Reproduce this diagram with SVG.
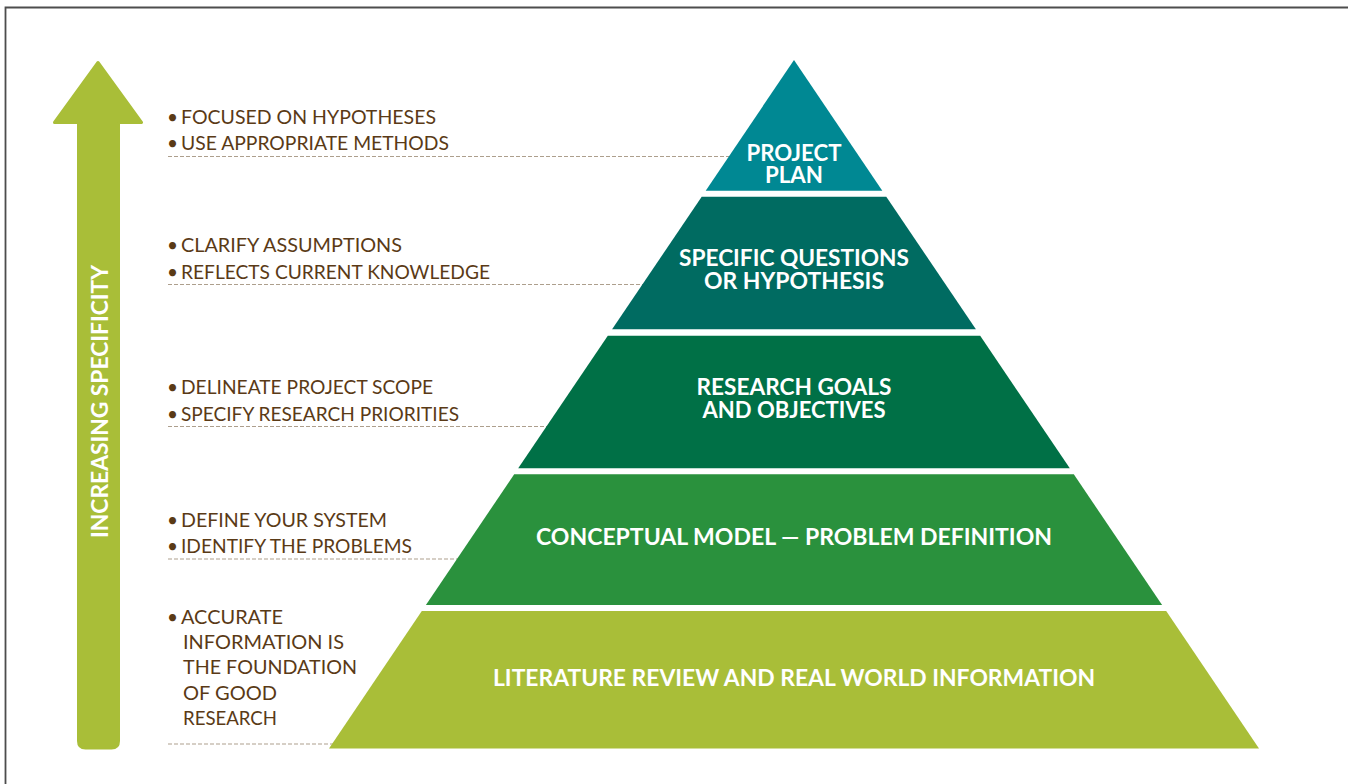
<svg xmlns="http://www.w3.org/2000/svg" width="1348" height="784" viewBox="0 0 1348 784">
<style>
.lbl{font-family:Lato,"Open Sans",sans-serif;font-weight:700;fill:#ffffff;font-size:22px;text-anchor:middle}
.note{font-family:Lato,"Open Sans",sans-serif;font-weight:400;fill:#5a3a16;font-size:19px}
.dash{stroke:#ad9f8d;stroke-width:1.2;stroke-dasharray:4 2;fill:none}
</style>
<rect width="1348" height="784" fill="#ffffff"/>
<path d="M5.5,790 V7.5 H1352" fill="none" stroke="#4d4d4d" stroke-width="1.8"/>
<g id="connectors">
<line class="dash" x1="168" y1="156.5" x2="730" y2="156.5"/>
<line class="dash" x1="168" y1="284.5" x2="643" y2="284.5"/>
<line class="dash" x1="168" y1="426.5" x2="547" y2="426.5"/>
<line class="dash" x1="168" y1="559" x2="458" y2="559"/>
<line class="dash" x1="168" y1="744" x2="333" y2="744"/>
</g>
<g id="arrow">
<path d="M98,62.5 L141.5,122.5 L118.5,122.5 L118.5,741 Q118.5,748 111.5,748 L85.5,748 Q78.5,748 78.5,741 L78.5,122.5 L54.5,122.5 Z" fill="#a9be38" stroke="#a9be38" stroke-width="3" stroke-linejoin="round"/>
<text class="lbl" font-size="25" transform="translate(108,401.5) rotate(-90)" x="0" y="0" textLength="273" lengthAdjust="spacingAndGlyphs">INCREASING SPECIFICITY</text>
</g>
<g id="project-plan">
<polygon points="794,60 882.3,190.7 705.7,190.7" fill="#008893"/>
<text class="lbl"><tspan x="794" y="161" textLength="95" lengthAdjust="spacingAndGlyphs">PROJECT</tspan><tspan x="794" y="183" textLength="58" lengthAdjust="spacingAndGlyphs">PLAN</tspan></text>
</g>
<g id="specific-questions">
<polygon points="701.7,196.7 886.3,196.7 975.9,329.3 612.1,329.3" fill="#006b61"/>
<text class="lbl"><tspan x="794" y="265.5" textLength="230" lengthAdjust="spacingAndGlyphs">SPECIFIC QUESTIONS</tspan><tspan x="794" y="288.5" textLength="180" lengthAdjust="spacingAndGlyphs">OR HYPOTHESIS</tspan></text>
</g>
<g id="research-goals">
<polygon points="607.8,335.7 980.2,335.7 1069.8,468.3 518.2,468.3" fill="#007046"/>
<text class="lbl"><tspan x="794" y="395" textLength="195" lengthAdjust="spacingAndGlyphs">RESEARCH GOALS</tspan><tspan x="794" y="418" textLength="183" lengthAdjust="spacingAndGlyphs">AND OBJECTIVES</tspan></text>
</g>
<g id="conceptual-model">
<polygon points="514.2,474.3 1073.8,474.3 1162.1,605 425.9,605" fill="#2a913d"/>
<text class="lbl" x="794" y="545" textLength="516" lengthAdjust="spacingAndGlyphs">CONCEPTUAL MODEL — PROBLEM DEFINITION</text>
</g>
<g id="literature-review">
<polygon points="421.8,611 1166.2,611 1259,748.5 329,748.5" fill="#a9be38"/>
<text class="lbl" x="794" y="686" textLength="602" lengthAdjust="spacingAndGlyphs">LITERATURE REVIEW AND REAL WORLD INFORMATION</text>
</g>
<g id="notes-plan">
<text class="note" x="167" y="124">•</text><text class="note" x="181" y="124" textLength="255" lengthAdjust="spacingAndGlyphs">FOCUSED ON HYPOTHESES</text>
<text class="note" x="167" y="150">•</text><text class="note" x="181" y="150" textLength="268" lengthAdjust="spacingAndGlyphs">USE APPROPRIATE METHODS</text>
</g>
<g id="notes-questions">
<text class="note" x="167" y="252">•</text><text class="note" x="181" y="252" textLength="221" lengthAdjust="spacingAndGlyphs">CLARIFY ASSUMPTIONS</text>
<text class="note" x="167" y="279">•</text><text class="note" x="181" y="279" textLength="309" lengthAdjust="spacingAndGlyphs">REFLECTS CURRENT KNOWLEDGE</text>
</g>
<g id="notes-goals">
<text class="note" x="167" y="394">•</text><text class="note" x="181" y="394" textLength="252" lengthAdjust="spacingAndGlyphs">DELINEATE PROJECT SCOPE</text>
<text class="note" x="167" y="421">•</text><text class="note" x="181" y="421" textLength="278" lengthAdjust="spacingAndGlyphs">SPECIFY RESEARCH PRIORITIES</text>
</g>
<g id="notes-model">
<text class="note" x="167" y="527">•</text><text class="note" x="181" y="527" textLength="206" lengthAdjust="spacingAndGlyphs">DEFINE YOUR SYSTEM</text>
<text class="note" x="167" y="553">•</text><text class="note" x="181" y="553" textLength="231" lengthAdjust="spacingAndGlyphs">IDENTIFY THE PROBLEMS</text>
</g>
<g id="notes-literature">
<text class="note" x="167" y="624">•</text><text class="note" x="181" y="624" textLength="102" lengthAdjust="spacingAndGlyphs">ACCURATE</text>
<text class="note" x="183" y="649" textLength="161" lengthAdjust="spacingAndGlyphs">INFORMATION IS</text>
<text class="note" x="183" y="674" textLength="174" lengthAdjust="spacingAndGlyphs">THE FOUNDATION</text>
<text class="note" x="183" y="700" textLength="94" lengthAdjust="spacingAndGlyphs">OF GOOD</text>
<text class="note" x="183" y="725" textLength="94" lengthAdjust="spacingAndGlyphs">RESEARCH</text>
</g>
</svg>
